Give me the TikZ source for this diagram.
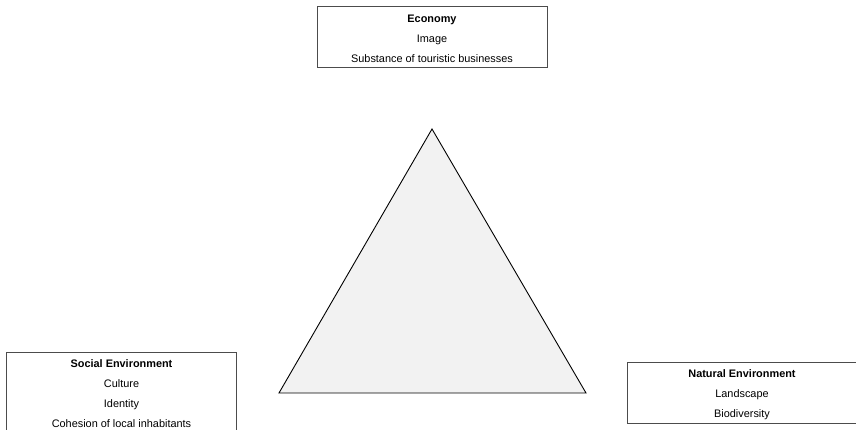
\documentclass[tikz,border=0pt]{standalone}
\usepackage{fontspec}
\setmainfont{Liberation Sans}
\begin{document}
\begin{tikzpicture}[x=1pt,y=1pt,
  pillarbox/.style={draw=black!70, line width=0.8pt, fill=white, rectangle,
    minimum width=230pt, inner sep=0pt},
  pillartext/.style={align=center, inner sep=0pt,
    font=\fontsize{10.9}{20}\selectfont},
  core/.style={draw=black, line width=0.9pt, fill=black!5, line join=miter}]
  \useasboundingbox (0,0) rectangle (856,430);
  \clip (0,0) rectangle (856,430);

  % the three pillars: frame, then its lines of text
  \node[pillarbox, minimum height=61pt] (eco) at (432,393.5) {};
  \node[pillartext] (ecotext) at ([yshift=-2.5pt]eco.center)
    {\textbf{Economy}\\Image\\Substance of touristic businesses};

  \node[pillarbox, minimum height=81pt] (soc) at (121.5,37.5) {};
  \node[pillartext] (soctext) at ([yshift=-1.5pt]soc.center)
    {\textbf{Social Environment}\\Culture\\Identity\\Cohesion of local inhabitants};

  % this frame runs past the right edge of the page
  \node[pillarbox, minimum height=61pt, minimum width=260pt] (nat) at (757,37.5) {};
  \node[pillartext] (nattext) at ([xshift=-15pt,yshift=-2.5pt]nat.center)
    {\textbf{Natural Environment}\\Landscape\\Biodiversity};

  % triangle in the middle
  \coordinate (top) at (432,301);
  \coordinate (bl) at (279,37);
  \coordinate (br) at (586,37);
  \draw[core] (top) -- (br) -- (bl) -- cycle;
\end{tikzpicture}
\end{document}
